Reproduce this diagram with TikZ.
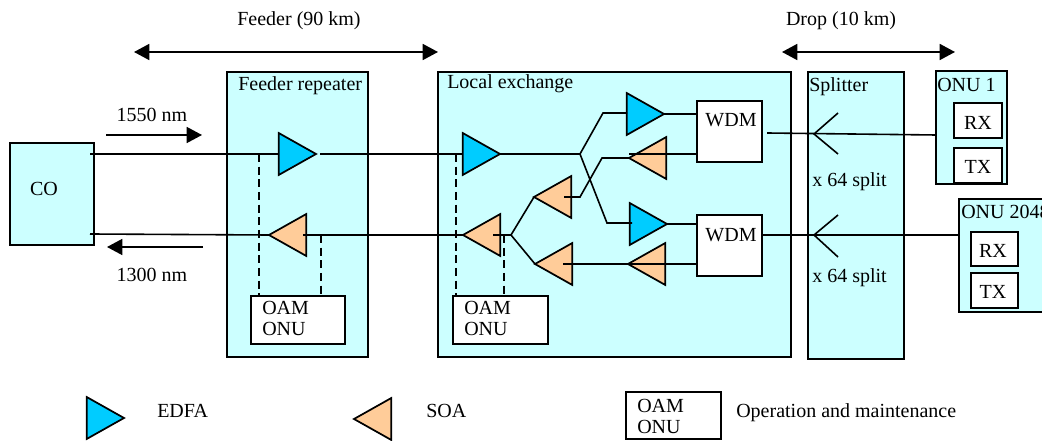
\documentclass[tikz,border=0pt]{standalone}
\usepackage{fontspec}
\setmainfont{Liberation Serif}
\usetikzlibrary{arrows.meta,shapes.geometric}
\definecolor{panelcol}{HTML}{CCFFFF}
\definecolor{edfacol}{HTML}{00CCFF}
\definecolor{soacol}{HTML}{FFCC99}
\tikzset{
  wire/.style={line width=1.2pt},
  oam/.style={line width=1.2pt,dash pattern=on 6pt off 3.5pt},
  panel/.style={draw,line width=1.3pt,fill=panelcol,inner sep=0pt,outer sep=0pt,anchor=north west},
  whitebox/.style={draw,line width=1.3pt,fill=white,inner sep=0pt,outer sep=0pt,anchor=north west},
  amp/.style={draw,line width=1.3pt,isosceles triangle,isosceles triangle stretches,inner sep=0pt,outer sep=0pt,minimum width=31.5pt,minimum height=28pt,anchor=apex},
  edfa/.style={amp,fill=edfacol},
  soa/.style={amp,fill=soacol,shape border rotate=180},
  txt/.style={inner sep=0pt,font=\fontsize{15}{16}\selectfont},
  lft/.style={txt,anchor=base west},
  mid/.style={txt,anchor=base},
  band/.style={line width=1.3pt,{Triangle[length=11.5pt,width=12pt]}-{Triangle[length=11.5pt,width=12pt]}},
  dirarrow/.style={line width=1.2pt,-{Triangle[length=11.5pt,width=12pt]}}
}
\newcommand{\pxbox}[6]{\node[#1,minimum width={(#4-#2)*0.75pt},minimum height={(#5-#3)*0.75pt}] (#6) at (#2,#3) {};}

\begin{document}
\begin{tikzpicture}[x=0.75pt,y=-0.75pt]
\useasboundingbox (0,0) rectangle (1042,441);

% panels
\pxbox{panel}{10}{143}{94}{245}{co}
\pxbox{panel}{227}{72}{368}{357}{feeder}
\pxbox{panel}{438}{72}{791}{357}{exchange}
\pxbox{panel}{808}{72}{904}{359}{splitter}
\pxbox{panel}{936}{71}{1007}{184}{onua}
\pxbox{panel}{959}{199}{1056}{312}{onub}

% white boxes
\pxbox{whitebox}{251}{296}{345}{344}{oama}
\pxbox{whitebox}{453}{296}{548}{344}{oamb}
\pxbox{whitebox}{626}{392}{721}{439}{oamc}
\pxbox{whitebox}{697}{101}{762}{162}{wdma}
\pxbox{whitebox}{697}{215}{762}{276}{wdmb}
\pxbox{whitebox}{954}{103}{1002}{138}{rxa}
\pxbox{whitebox}{954}{148}{1002}{183}{txa}
\pxbox{whitebox}{971}{232}{1018}{266}{rxb}
\pxbox{whitebox}{971}{273}{1018}{308}{txb}

% amplifiers
\node[edfa] (ampa) at (316,154) {};
\node[soa] (ampb) at (269,235) {};
\node[edfa] (ampc) at (500,154) {};
\node[soa] (ampd) at (463,235) {};
\node[edfa] (ampe) at (664,114) {};
\node[soa] (ampf) at (629,158) {};
\node[soa] (ampg) at (534,197) {};
\node[edfa] (amph) at (667,224) {};
\node[soa] (ampi) at (535,264) {};
\node[soa] (ampj) at (628,264) {};
\node[edfa] (keya) at (124,418) {};
\node[soa] (keyb) at (354,419) {};

% junctions and free ends
\coordinate (coup) at (90,154);
\coordinate (codown) at (90,234);
\coordinate (ampaout) at (320,154);
\coordinate (ampbin) at (303,235);
\coordinate (ampcin) at (463,154);
\coordinate (ampdin) at (493,235);
\coordinate (ampein) at (627,113);
\coordinate (ampgin) at (564,197);
\coordinate (amphin) at (632,223);
\coordinate (ampiin) at (563,264);
\coordinate (forka) at (580,154);
\coordinate (forkb) at (511,235);
\coordinate (kneea) at (603,113);
\coordinate (kneeb) at (607,223);
\coordinate (kneec) at (602,158);
\coordinate (kneed) at (580,197);
\coordinate (wdmout) at (767,133);
\coordinate (onuain) at (936,135);
\coordinate (tapa) at (259,154);
\coordinate (tapb) at (321,235);
\coordinate (tapc) at (456,154);
\coordinate (tapd) at (504,235);
\coordinate (splita) at (814,134);
\coordinate (splitb) at (814,235);
\coordinate (armaa) at (838,113);
\coordinate (armab) at (838,154);
\coordinate (armba) at (838,215);
\coordinate (armbb) at (838,257);

% fibre
\draw [wire] (coup) -- (ampa.west |- coup);
\draw [wire] (ampaout) -- (ampcin);
\draw [wire] (codown) -- (ampb.apex);
\draw [wire] (ampbin) -- (ampd.apex);
\draw [wire] (ampc.apex) -- (forka) -- (kneea) -- (ampein);
\draw [wire] (forka) -- (kneeb) -- (amphin);
\draw [wire] (ampe.apex) -- (wdma.west |- ampe.apex);
\draw [wire] (amph.apex) -- (wdmb.west |- amph.apex);
\draw [wire] (wdma.west |- forka) -- (ampf.west |- forka);
\draw [wire] (ampf.apex) -- (kneec) -- (kneed) -- (ampgin);
\draw [wire] (ampg.apex) -- (forkb) -- (ampi.apex);
\draw [wire] (ampdin) -- (forkb);
\draw [wire] (ampiin) -- (ampj.apex);
\draw [wire] (wdmb.west |- ampj.apex) -- (ampj.west |- ampj.apex);
\draw [wire] (wdmout) -- (onuain);
\draw [wire] (wdmb.east |- splitb) -- (onub.west |- splitb);
\draw [wire] (armaa) -- (splita) -- (armab);
\draw [wire] (armba) -- (splitb) -- (armbb);

% oam taps
\draw [oam] (tapa) -- (oama.north -| tapa);
\draw [oam] (tapb) -- (oama.north -| tapb);
\draw [oam] (tapc) -- (oamb.north -| tapc);
\draw [oam] (tapd) -- (oamb.north -| tapd);

% arrows above
\coordinate (bandaa) at (134,52);
\coordinate (bandab) at (438,52);
\coordinate (bandba) at (782,52);
\coordinate (bandbb) at (955,52);
\coordinate (dirab) at (106,135);
\coordinate (diraa) at (202,135);
\coordinate (dirbb) at (203,247);
\coordinate (dirba) at (107,247);
\draw [band] (bandaa) -- (bandab);
\draw [band] (bandba) -- (bandbb);
\draw [dirarrow] (dirab) -- (diraa);
\draw [dirarrow] (dirbb) -- (dirba);

% text
\node[mid] (lfeeder) at (299,26) {Feeder (90 km)};
\node[mid] (ldrop) at (841,26) {Drop (10 km)};
\node[mid] (lup) at (152,122) {1550 nm};
\node[mid] (ldown) at (152,282) {1300 nm};
\node[mid] (lco) at (44,196) {CO};
\node[lft] (lrep) at (238,91) {Feeder repeater};
\node[lft] (lexch) at (447,89) {Local exchange};
\node[lft] (lspl) at (809,92) {Splitter};
\node[lft] (lonua) at (937,92) {ONU 1};
\node[lft] (lonub) at (961,219) {ONU 2048};
\node[mid] (lwdma) at (731,127) {WDM};
\node[mid] (lwdmb) at (731,242) {WDM};
\node[mid] (lrxa) at (978,130) {RX};
\node[mid] (ltxa) at (978,174) {TX};
\node[mid] (lrxb) at (993,258) {RX};
\node[mid] (ltxb) at (993,299) {TX};
\node[lft] (lxa) at (812,187) {x 64 split};
\node[lft] (lxb) at (812,283) {x 64 split};
\foreach \nm/\tx/\ty in {a/262/315,b/464/315,c/637/412}{
  \node[lft] (oamt\nm) at (\tx,\ty) {OAM};
  \node[lft] (onut\nm) at (\tx,\ty+21) {ONU};
}
\node[lft] (lkeya) at (157,417) {EDFA};
\node[lft] (lkeyb) at (426,417) {SOA};
\node[lft] (lkeyc) at (736,417) {Operation and maintenance};
\end{tikzpicture}
\end{document}
